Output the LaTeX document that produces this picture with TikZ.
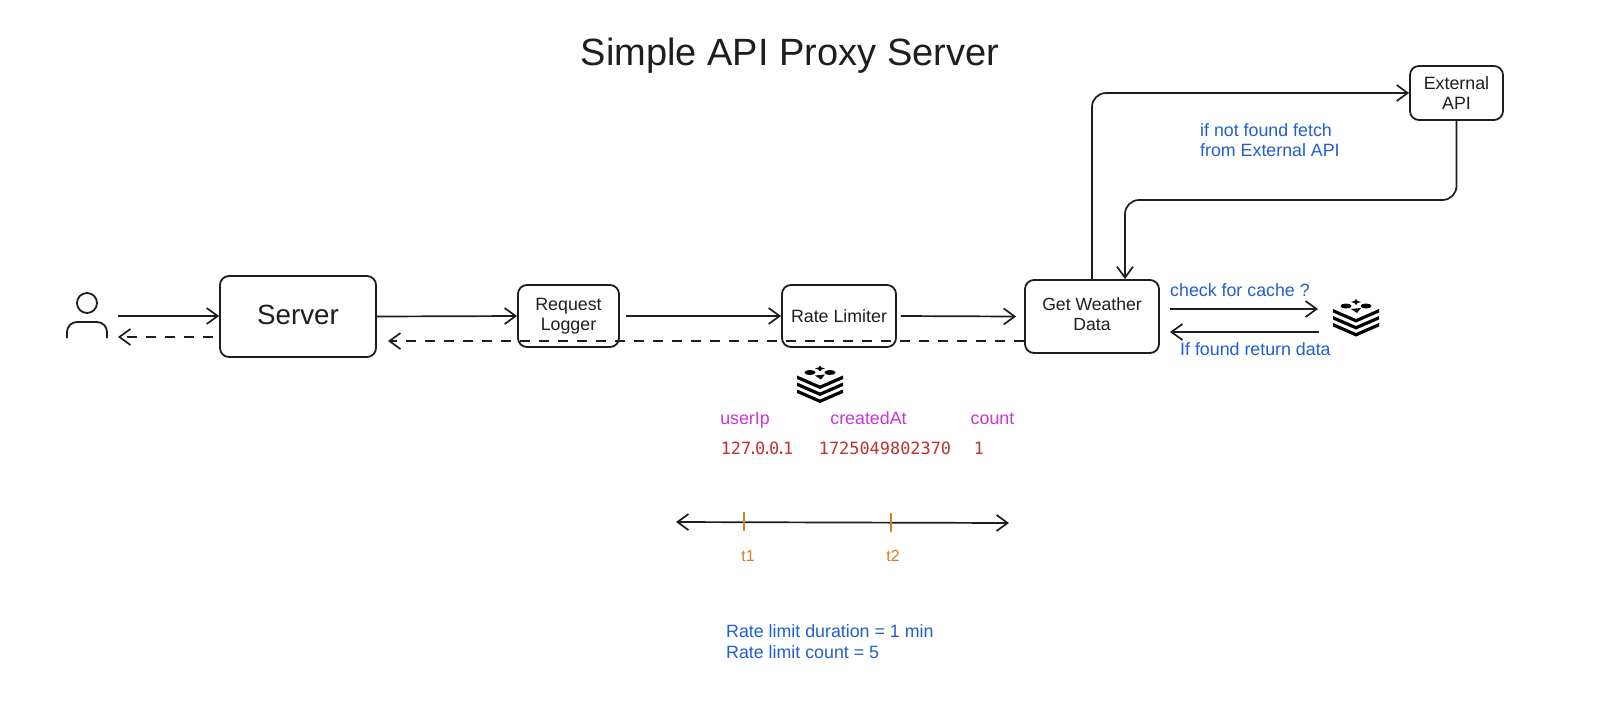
\documentclass[tikz,border=0pt]{standalone}
\usepackage{fontspec}
\setmainfont{Liberation Sans}
\setmonofont{DejaVu Sans Mono}
\usetikzlibrary{arrows.meta,calc}
\definecolor{ink}{HTML}{1E1E1E}
\definecolor{noteblue}{HTML}{1F5FD0}
\definecolor{fieldpink}{HTML}{C836D8}
\definecolor{valred}{HTML}{C0322E}
\definecolor{tickorange}{HTML}{CC8420}
\tikzset{
  x=1pt,y=-1pt,
  barb/.tip={Straight Barb[length=11pt,width=16pt,line width=1.7pt]},
  box/.style={draw=ink,line width=1.8pt,rounded corners=9pt,align=center,text=ink,inner sep=0pt},
  link/.style={draw=ink,line width=1.7pt,-barb},
  dashlink/.style={link,dash pattern=on 10pt off 9pt},
  note/.style={text=noteblue,font=\fontsize{17.8}{20}\selectfont,align=left,inner sep=0pt},
  field/.style={text=fieldpink,font=\fontsize{17.8}{20}\selectfont,inner sep=0pt,anchor=base},
  val/.style={text=valred,font=\ttfamily\fontsize{16.9}{20}\selectfont,inner sep=0pt},
  tick/.style={text=tickorange,font=\fontsize{16}{19}\selectfont,inner sep=0pt},
  redis/.pic={
    \fill[black] (-23,-9) -- (0,1) -- (23,-9) -- (23,-5.5) -- (0,4.5) -- (-23,-5.5) -- cycle;
    \fill[black] (-23,-2) -- (0,8) -- (23,-2) -- (23,1.5) -- (0,11.5) -- (-23,1.5) -- cycle;
    \fill[black] (-23,5) -- (0,15) -- (23,5) -- (23,8.5) -- (0,18.5) -- (-23,8.5) -- cycle;
    \fill[black] (-10,-12) ellipse [x radius=5.5pt,y radius=2.5pt];
    \fill[black] (10,-12) ellipse [x radius=5.5pt,y radius=2.5pt];
    \fill[black] (0,-19) -- (1.5,-17) -- (5,-16) -- (1.5,-15) -- (0,-13) -- (-1.5,-15) -- (-5,-16) -- (-1.5,-17) -- cycle;
    \fill[black] (-5,-9) -- (5,-10) -- (1,-5) -- cycle;
  }
}
\newcommand{\tdot}{\kern-3.2pt.\kern-3.2pt}
\begin{document}
\begin{tikzpicture}
\useasboundingbox[fill=white] (0,0) rectangle (1621,705);

% Title
\node[text=ink,font=\fontsize{38}{44}\selectfont,inner sep=0pt] (title) at (790,56) {Simple API Proxy Server};

% Boxes
\node[box,minimum width=156pt,minimum height=81pt] (server) at (298,316.5) {};
\node[text=ink,font=\fontsize{27.8}{32}\selectfont,inner sep=0pt] (servertext) at (298,314.5) {Server};
\node[box,minimum width=101pt,minimum height=62pt,font=\fontsize{17.8}{20}\selectfont] (logger) at (568.5,316) {Request\\Logger};
\node[box,minimum width=114pt,minimum height=62pt,font=\fontsize{17.8}{20}\selectfont] (limiter) at (839,316) {Rate Limiter};
\node[box,minimum width=134pt,minimum height=73pt] (weather) at (1092,316.5) {};
\node[text=ink,font=\fontsize{17.6}{20}\selectfont,align=center,inner sep=0pt] (weathertext) at (1092,314.5) {Get Weather\\Data};
\node[box,minimum width=93pt,minimum height=54pt,font=\fontsize{17.8}{20}\selectfont] (external) at (1456.5,93) {External\\API};

% User icon
\coordinate (user) at (87,320);
\draw[ink,line width=1.8pt] (87,303) circle [radius=10pt];
\draw[ink,line width=1.8pt,rounded corners=10pt] (67,338) -- (67,322) -- (107,322) -- (107,338);

% Redis icons
\coordinate (cache) at (1356,318);
\coordinate (store) at (820,384.5);
\pic at (cache) {redis};
\pic at (store) {redis};

% Connectors
\coordinate (userout) at (118,316);
\coordinate (userin) at (118,337);
\draw[link] (userout) -- (userout -| server.west);
\draw[dashlink] (userin -| server.west) ++(-6,0) -- (userin);
\draw[link] (server.east) -- (logger.west);
\draw[link] ([xshift=6pt]logger.east) -- (limiter.west);
\draw[link] ([xshift=4pt]limiter.east) -- ([xshift=-8pt]weather.west);
\coordinate (backend) at (388,341);
\draw[dashlink] (backend -| weather.west) -- (backend);
\draw[link,rounded corners=14pt] (weather.north) -- (weather.north |- external.west) -- (external.west);
\coordinate (joinY) at (1125,200);
\draw[link,rounded corners=14pt] (external.south) -- (external.south |- joinY) -- (joinY) -- (joinY |- weather.north);
\coordinate (checkout) at (1170,309);
\coordinate (cachein) at (1318,309);
\coordinate (cacheout) at (1319,332);
\coordinate (foundin) at (1170,332);
\draw[link] (checkout) -- (cachein);
\draw[link] (cacheout) -- (foundin);

% Notes
\node[note,anchor=west] (fetchnote) at (1200,140) {if not found fetch\\from External API};
\node[note,anchor=west] (checknote) at (1170,290) {check for cache ?};
\node[note,anchor=west] (foundnote) at (1180,349) {If found return data};

% Table
\node[field] (fuser) at (745,424) {userIp};
\node[field] (fcreated) at (868.5,424) {createdAt};
\node[field] (fcount) at (992.5,424) {count};
\node[val] (vuser) at (757,448) {127\tdot 0\tdot 0\tdot 1};
\node[val] (vcreated) at (885,448) {1725049802370};
\node[val] (vcount) at (979,448) {1};

% Timeline
\coordinate (tl) at (676,522);
\coordinate (tr) at (1009,523);
\draw[draw=ink,line width=1.7pt,barb-barb] (tl) -- (tr);
\coordinate (t1a) at (744,512);
\coordinate (t1b) at (744,531);
\coordinate (t2a) at (891,513);
\coordinate (t2b) at (891,532);
\draw[tickorange,line width=1.2pt] (t1a) -- (t1b);
\draw[tickorange,line width=1.2pt] (t2a) -- (t2b);
\node[tick] (t1) at (748,556) {t1};
\node[tick] (t2) at (893,556) {t2};

\node[note,anchor=west,font=\fontsize{17.8}{21}\selectfont] (ratenote) at (726,642) {Rate limit duration = 1 min\\Rate limit count = 5};
\end{tikzpicture}
\end{document}
